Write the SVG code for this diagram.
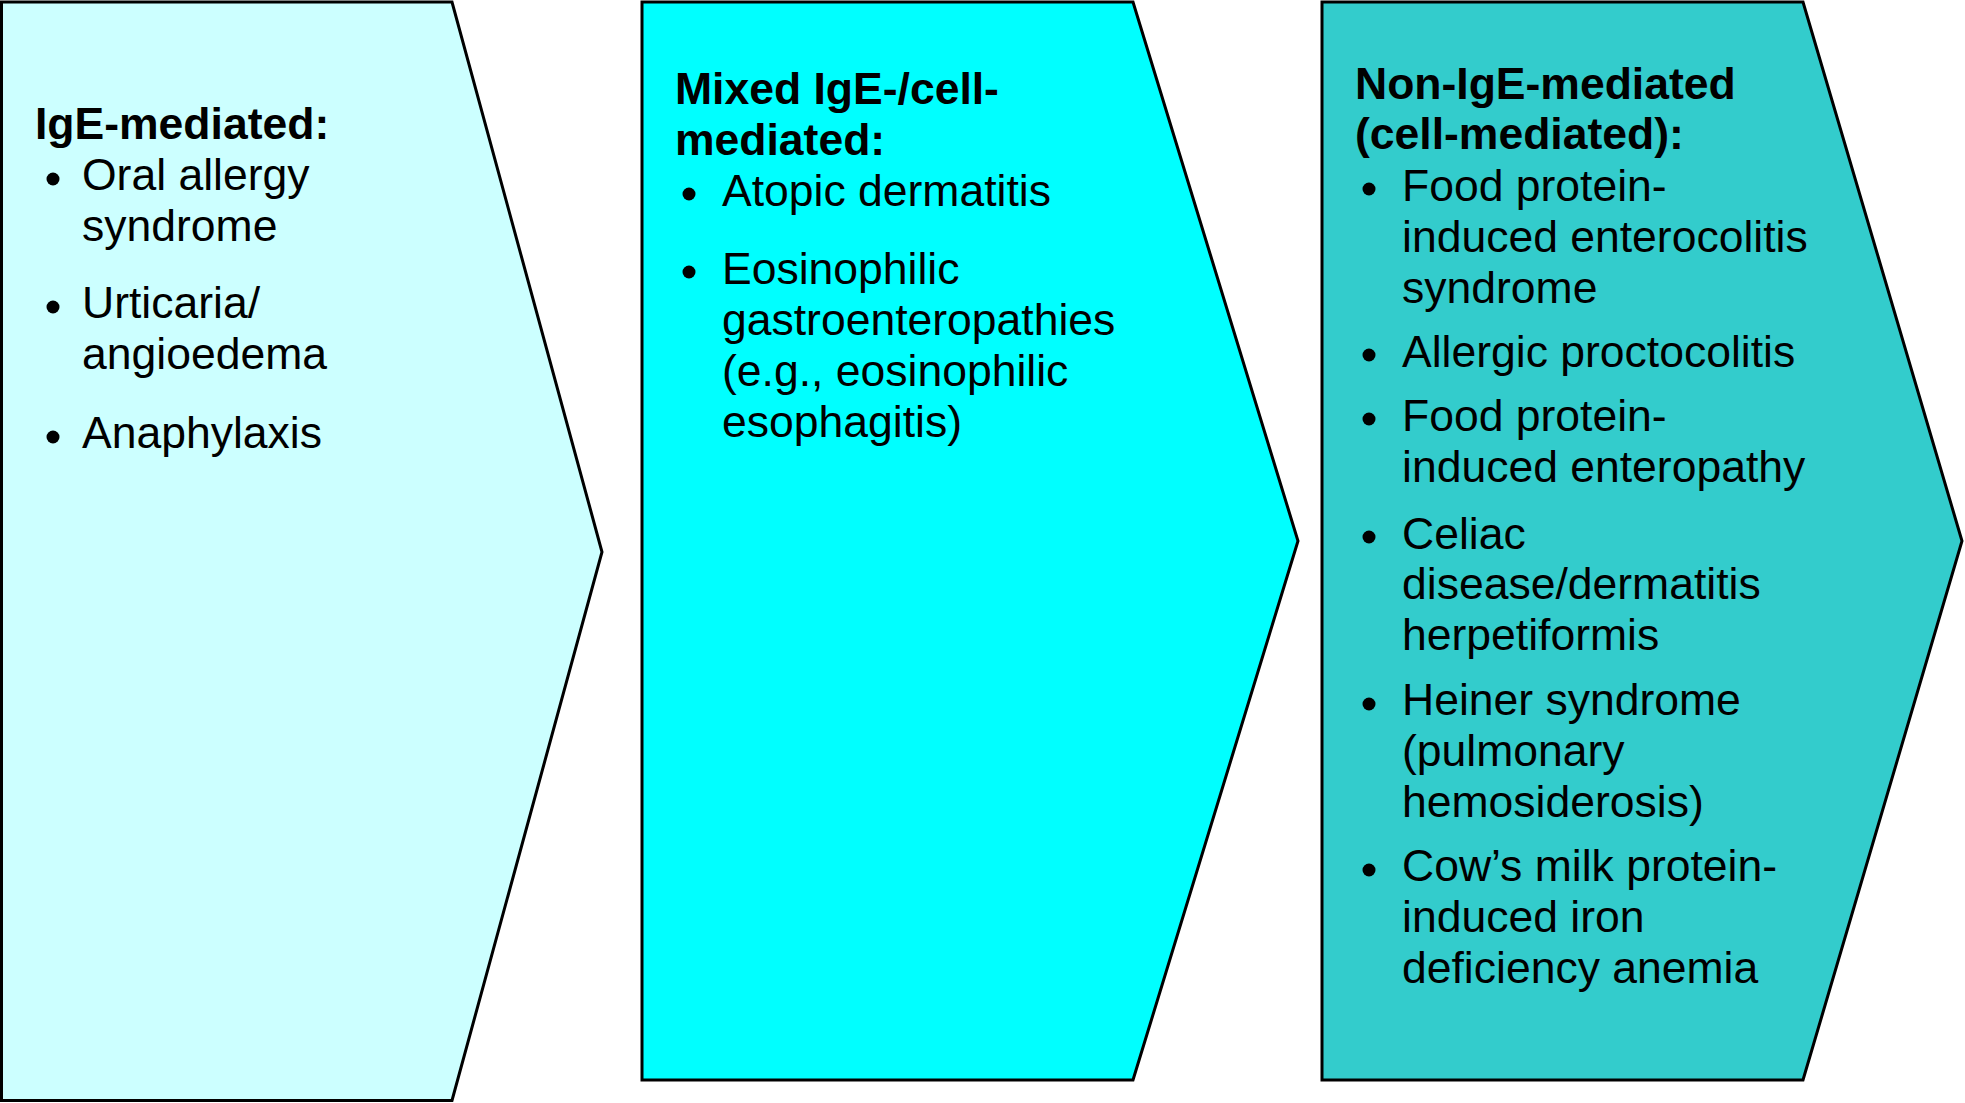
<svg xmlns="http://www.w3.org/2000/svg" width="1965" height="1103" viewBox="0 0 1965 1103">
<style>
.box{stroke:#000;stroke-width:3;stroke-linejoin:miter}
.h{font-family:"Liberation Sans",Arial,sans-serif;font-weight:bold;font-size:44.5px;fill:#000}
.t{font-family:"Liberation Sans",Arial,sans-serif;font-size:44.5px;fill:#000}
.b{fill:#000}
</style>
<rect width="1965" height="1103" fill="#fff"/>
<g id="node-ige">
<polygon class="box" fill="#CCFFFF" points="1.5,2 452,2 602,552 452,1100.5 1.5,1100.5"/>
<text class="h" x="35" y="139">IgE-mediated:</text>
<circle class="b" cx="53" cy="179" r="6.5"/>
<text class="t" x="82" y="190">Oral allergy</text>
<text class="t" x="82" y="241">syndrome</text>
<circle class="b" cx="53" cy="307" r="6.5"/>
<text class="t" x="82" y="318">Urticaria/</text>
<text class="t" x="82" y="369">angioedema</text>
<circle class="b" cx="53" cy="437" r="6.5"/>
<text class="t" x="82" y="448">Anaphylaxis</text>
</g>
<g id="node-mixed">
<polygon class="box" fill="#00FFFF" points="642,2 1133,2 1298,541 1133,1080 642,1080"/>
<text class="h" x="675" y="104">Mixed IgE-/cell-</text>
<text class="h" x="675" y="155">mediated:</text>
<circle class="b" cx="689" cy="194" r="6.5"/>
<text class="t" x="722" y="206">Atopic dermatitis</text>
<circle class="b" cx="689" cy="272" r="6.5"/>
<text class="t" x="722" y="284">Eosinophilic</text>
<text class="t" x="722" y="335">gastroenteropathies</text>
<text class="t" x="722" y="386">(e.g., eosinophilic</text>
<text class="t" x="722" y="437">esophagitis)</text>
</g>
<g id="node-nonige">
<polygon class="box" fill="#33CCCC" points="1322,2 1803,2 1962,541 1803,1080 1322,1080"/>
<text class="h" x="1355" y="99">Non-IgE-mediated</text>
<text class="h" x="1355" y="149">(cell-mediated):</text>
<circle class="b" cx="1369" cy="189" r="6.5"/>
<text class="t" x="1402" y="201">Food protein-</text>
<text class="t" x="1402" y="252">induced enterocolitis</text>
<text class="t" x="1402" y="303">syndrome</text>
<circle class="b" cx="1369" cy="355" r="6.5"/>
<text class="t" x="1402" y="367">Allergic proctocolitis</text>
<circle class="b" cx="1369" cy="419" r="6.5"/>
<text class="t" x="1402" y="431">Food protein-</text>
<text class="t" x="1402" y="482">induced enteropathy</text>
<circle class="b" cx="1369" cy="537" r="6.5"/>
<text class="t" x="1402" y="549">Celiac</text>
<text class="t" x="1402" y="599">disease/dermatitis</text>
<text class="t" x="1402" y="650">herpetiformis</text>
<circle class="b" cx="1369" cy="704" r="6.5"/>
<text class="t" x="1402" y="715">Heiner syndrome</text>
<text class="t" x="1402" y="766">(pulmonary</text>
<text class="t" x="1402" y="817">hemosiderosis)</text>
<circle class="b" cx="1369" cy="870" r="6.5"/>
<text class="t" x="1402" y="881">Cow’s milk protein-</text>
<text class="t" x="1402" y="932">induced iron</text>
<text class="t" x="1402" y="983">deficiency anemia</text>
</g>
<g id="connectors"></g>
</svg>
